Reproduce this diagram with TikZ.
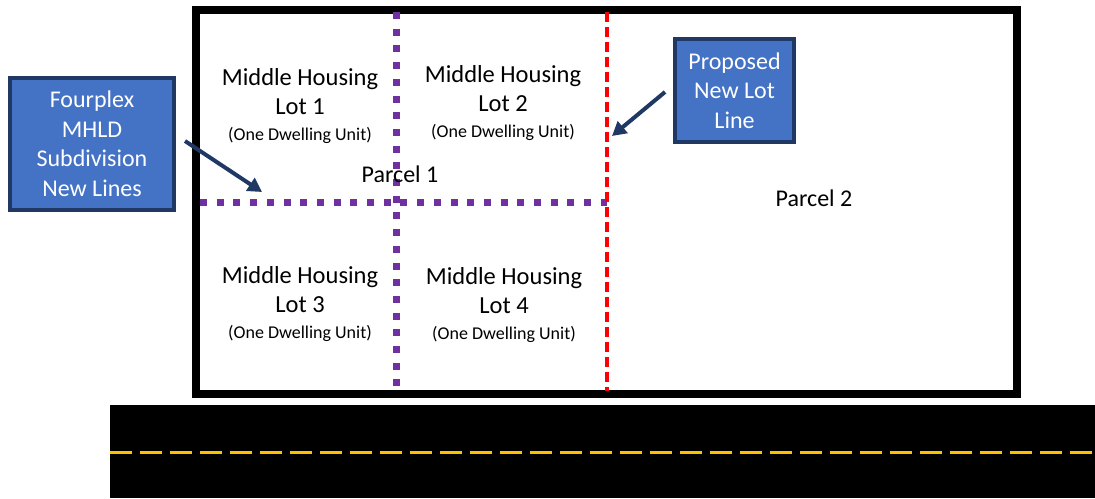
\documentclass[tikz,border=0pt]{standalone}
\usepackage{fontspec}
\setmainfont{Carlito}
\usetikzlibrary{arrows.meta}

\definecolor{lotpurple}{RGB}{112,48,160}
\definecolor{boxblue}{RGB}{68,114,196}
\definecolor{boxnavy}{RGB}{31,56,100}
\definecolor{laneyellow}{RGB}{255,192,0}

\begin{document}
\begin{tikzpicture}[x=1pt,y=-1pt,
    lotlabel/.style={align=center,font=\fontsize{24.5}{29}\selectfont},
    parcellabel/.style={font=\fontsize{24}{29}\selectfont},
    callout/.style={draw=boxnavy,fill=boxblue,line width=4pt,text=white,
        align=center,font=\fontsize{24}{29.5}\selectfont,inner sep=0pt},
    pointer/.style={draw=boxnavy,line width=4pt,-{Triangle[length=14pt,width=15pt]}}]

            \useasboundingbox (0,0) rectangle (1095,498);

            % road
            \fill[black] (110,405) rectangle (1095,498);
            \draw[laneyellow,line width=3pt,dash pattern=on 22pt off 8pt] (110,452) -- (1095,452);

            % parcel outline
            \draw[line width=8pt] (196,10) rectangle (1017,394);

            % lot lines
            \coordinate (vtop) at (396,12);
            \coordinate (vbot) at (396,391);
            \coordinate (hleft) at (200,202);
            \coordinate (hright) at (607,202);
            \coordinate (rtop) at (607,12);
            \coordinate (rbot) at (607,391);

            \draw[lotpurple,line width=7pt,dash pattern=on 7pt off 9.7pt] (vtop) -- (vbot);
            \draw[lotpurple,line width=7pt,dash pattern=on 7pt off 9.7pt] (hleft) -- (hright);

            % proposed new lot line
            \draw[red,line width=3.5pt,dash pattern=on 10pt off 5pt] (rtop) -- (rbot);

            % lot labels
            \node [lotlabel] (lot1) at (300,106) {Middle Housing\\Lot 1\\[-3pt]{\fontsize{18}{21}\selectfont (One Dwelling Unit)}};
            \node [lotlabel] (lot2) at (503,103) {Middle Housing\\Lot 2\\[-3pt]{\fontsize{18}{21}\selectfont (One Dwelling Unit)}};
            \node [lotlabel] (lot3) at (300,304) {Middle Housing\\Lot 3\\[-3pt]{\fontsize{18}{21}\selectfont (One Dwelling Unit)}};
            \node [lotlabel] (lot4) at (504,305) {Middle Housing\\Lot 4\\[-3pt]{\fontsize{18}{21}\selectfont (One Dwelling Unit)}};

            % parcel labels
            \node [parcellabel] (parcel1) at (400,174) {Parcel 1};
            \node [parcellabel] (parcel2) at (814,198) {Parcel 2};

            % callouts
            \node [callout,minimum width=164pt,minimum height=132pt] (mhld) at (92,144)
                {Fourplex\\MHLD\\Subdivision\\New Lines};
            \node [callout,minimum width=119pt,minimum height=103pt] (newlot) at (734.5,90.5)
                {Proposed\\New Lot\\Line};

            \coordinate (mhldtip) at (262,192);
            \coordinate (newlottip) at (612,136);

            \draw[pointer] (185,141) -- (mhldtip);
            \draw[pointer] (665,92) -- (newlottip);

\end{tikzpicture}
\end{document}
